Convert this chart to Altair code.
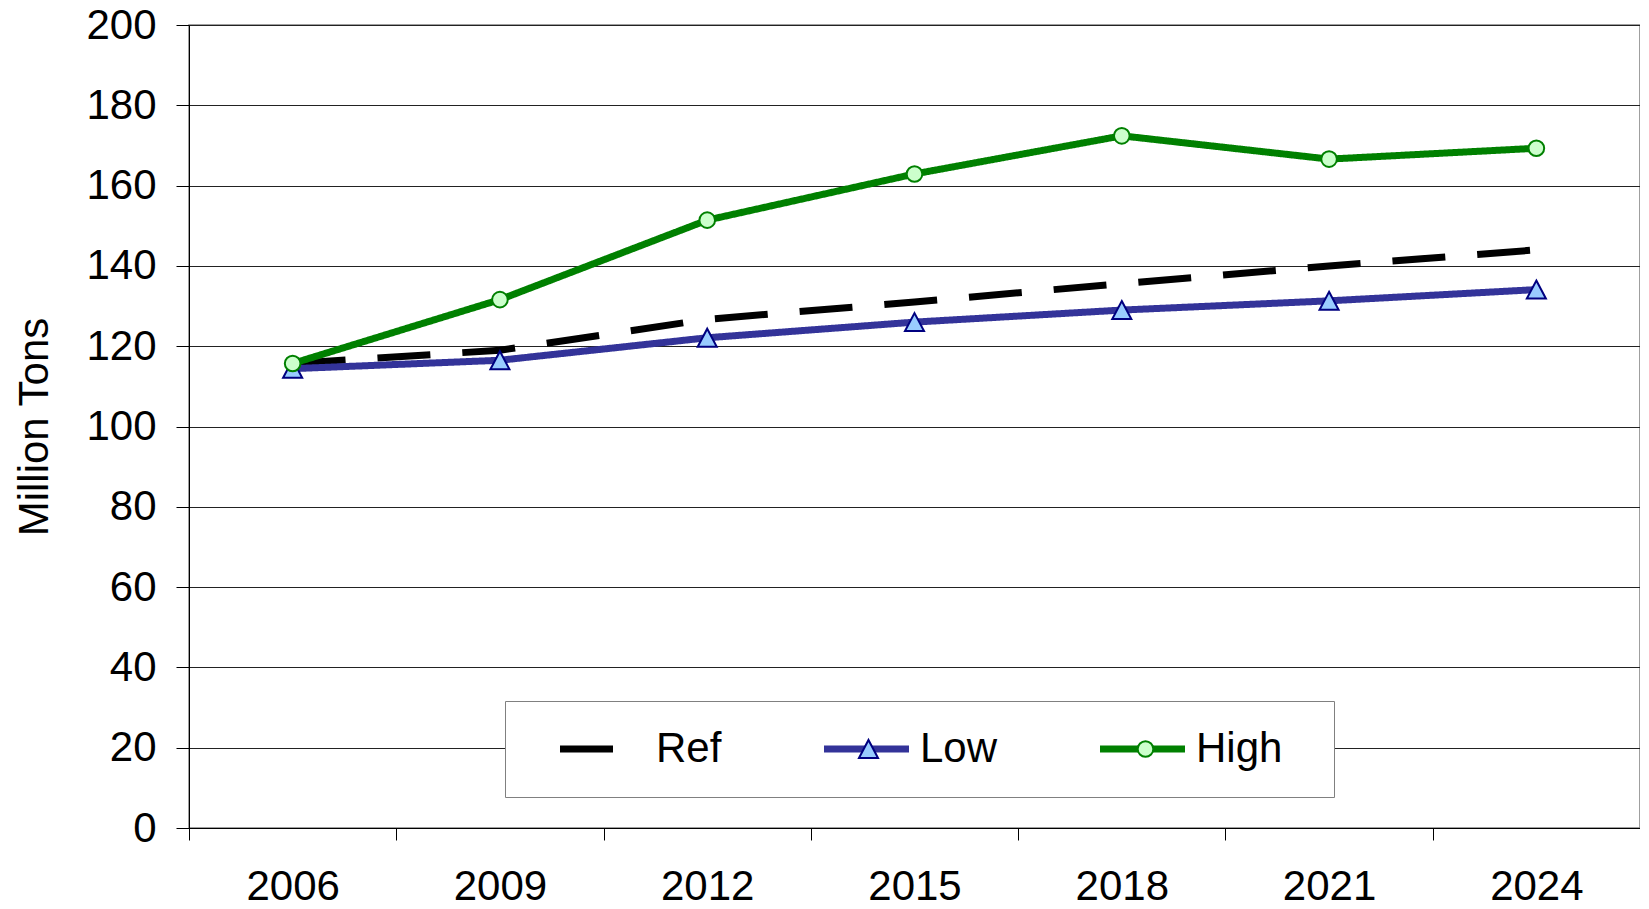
import altair as alt
import pandas as pd

years = ["2006", "2009", "2012", "2015", "2018", "2021", "2024"]
series_names = ["Ref", "Low", "High"]
marker_names = ["Ref_m", "Low_m", "High_m"]
ref_vals = [115.7, 119.0, 126.7, 131.0, 135.6, 140.0, 144.0]
low_vals = [114.4, 116.5, 122.1, 126.0, 129.0, 131.3, 134.1]
high_vals = [115.7, 131.6, 151.4, 162.9, 172.4, 166.6, 169.3]
y_ticks = list(range(0, 201, 20))

line_colors = ["#000000", "#333399", "#008000"]
line_dashes = [[53, 32], [1, 0], [1, 0]]
marker_fills = ["transparent", "#99CCFF", "#CCFFCC"]
marker_strokes = ["transparent", "#000080", "#008000"]
# symbol paths (unit scale 17px); zero-length segments only set legend entry extents
LEFT = "M-4.147,0L-4.147,0"
marker_paths = [
    LEFT + "M7.45,0L7.45,0",
    LEFT + "M8.10,0L8.10,0M0,-0.53L0.56,0.53L-0.56,0.53Z",
    LEFT + "M8.0,0L8.0,0M0.46,0A0.46,0.46,0,1,1,-0.46,0A0.46,0.46,0,1,1,0.46,0Z",
]
legend_line_path = LEFT + "M-2.5,0H2.5"

rows = []
for name, mname, vals in zip(series_names, marker_names, [ref_vals, low_vals, high_vals]):
    for yr, v in zip(years, vals):
        rows.append({"year": yr, "series": name, "marker": mname, "value": v})
df = pd.DataFrame(rows)

FONT = "Liberation Sans"
LX, LY = 316, 676
PAD = 27
SYM_OFF = 49.5
LAB_OFF = 32.5
COL_PAD = 60

legA = alt.Legend(
    orient="none", legendX=LX, legendY=LY, direction="horizontal", columns=3,
    padding=PAD, strokeColor="#808080", fillColor="white",
    symbolType=legend_line_path, symbolSize=1156, symbolStrokeWidth=7,
    symbolOffset=SYM_OFF, labelFont=FONT, labelFontSize=42, labelColor="black",
    labelOffset=LAB_OFF, columnPadding=COL_PAD, title=".", titleOrient="right",
    titleColor="transparent", titleFontSize=20, titlePadding=19,
)
legB = alt.Legend(
    orient="none", legendX=LX, legendY=LY, direction="horizontal", columns=3,
    padding=PAD, strokeColor="transparent", fillColor="transparent",
    symbolSize=1156, symbolStrokeWidth=2, symbolOffset=SYM_OFF,
    labelFont=FONT, labelFontSize=42, labelColor="transparent",
    labelExpr="''", labelOffset=LAB_OFF, columnPadding=COL_PAD, title=None,
)

x_enc = alt.X(
    "year:N", sort=years, bandPosition=0.5,
    scale=alt.Scale(type="band", paddingInner=0, paddingOuter=0),
    axis=alt.Axis(title=None, tickBand="extent", tickSize=12, tickColor="black",
                  labelFontSize=42, labelFont=FONT, labelColor="black",
                  labelPadding=26, labelAngle=0, domainColor="black", grid=False),
)
y_enc = alt.Y(
    "value:Q", scale=alt.Scale(domain=[0, 200], nice=False),
    axis=alt.Axis(values=y_ticks, tickSize=13, tickColor="black", labelPadding=20,
                  labelFontSize=42, labelFont=FONT, labelColor="black",
                  domainColor="black", gridColor="#222222", gridWidth=1,
                  title="Million Tons", titleFontSize=42, titleFont=FONT,
                  titleFontWeight="normal", titleColor="black",
                  titleAngle=270, titleX=-142, titleY=401.5,
                  titleAlign="center", titleBaseline="alphabetic"),
)
color_enc = alt.Color("series:N", scale=alt.Scale(domain=series_names, range=line_colors), legend=legA)
dash_enc = alt.StrokeDash("series:N", scale=alt.Scale(domain=series_names, range=line_dashes), legend=legA)
shape_enc = alt.Shape("marker:N", scale=alt.Scale(domain=marker_names, range=marker_paths), legend=legB)
fill_enc = alt.Fill("marker:N", scale=alt.Scale(domain=marker_names, range=marker_fills), legend=legB)
stroke_enc = alt.Stroke("marker:N", scale=alt.Scale(domain=marker_names, range=marker_strokes), legend=legB)

base = alt.Chart(df)


def line_layer(name):
    return base.transform_filter(alt.datum.series == name).mark_line(
        strokeWidth=7, strokeCap="butt"
    ).encode(x=x_enc, y=y_enc, color=color_enc, strokeDash=dash_enc)


def point_layer(name):
    return base.transform_filter(alt.datum.series == name).mark_point(
        filled=True, size=1156, strokeWidth=2, opacity=1
    ).encode(x=x_enc, y=y_enc, shape=shape_enc, fill=fill_enc, stroke=stroke_enc)


chart = alt.layer(
    line_layer("Ref"), line_layer("Low"), point_layer("Low"),
    line_layer("High"), point_layer("High"),
).properties(
    width=1451, height=803,
    autosize=alt.AutoSizeParams(type="none"),
    padding={"left": 181, "top": 17, "right": 0, "bottom": 81},
).configure(font=FONT).configure_view(stroke="#808080", strokeWidth=1.5)

chart.save("out.html", embed_options={"renderer": "svg", "actions": False})
